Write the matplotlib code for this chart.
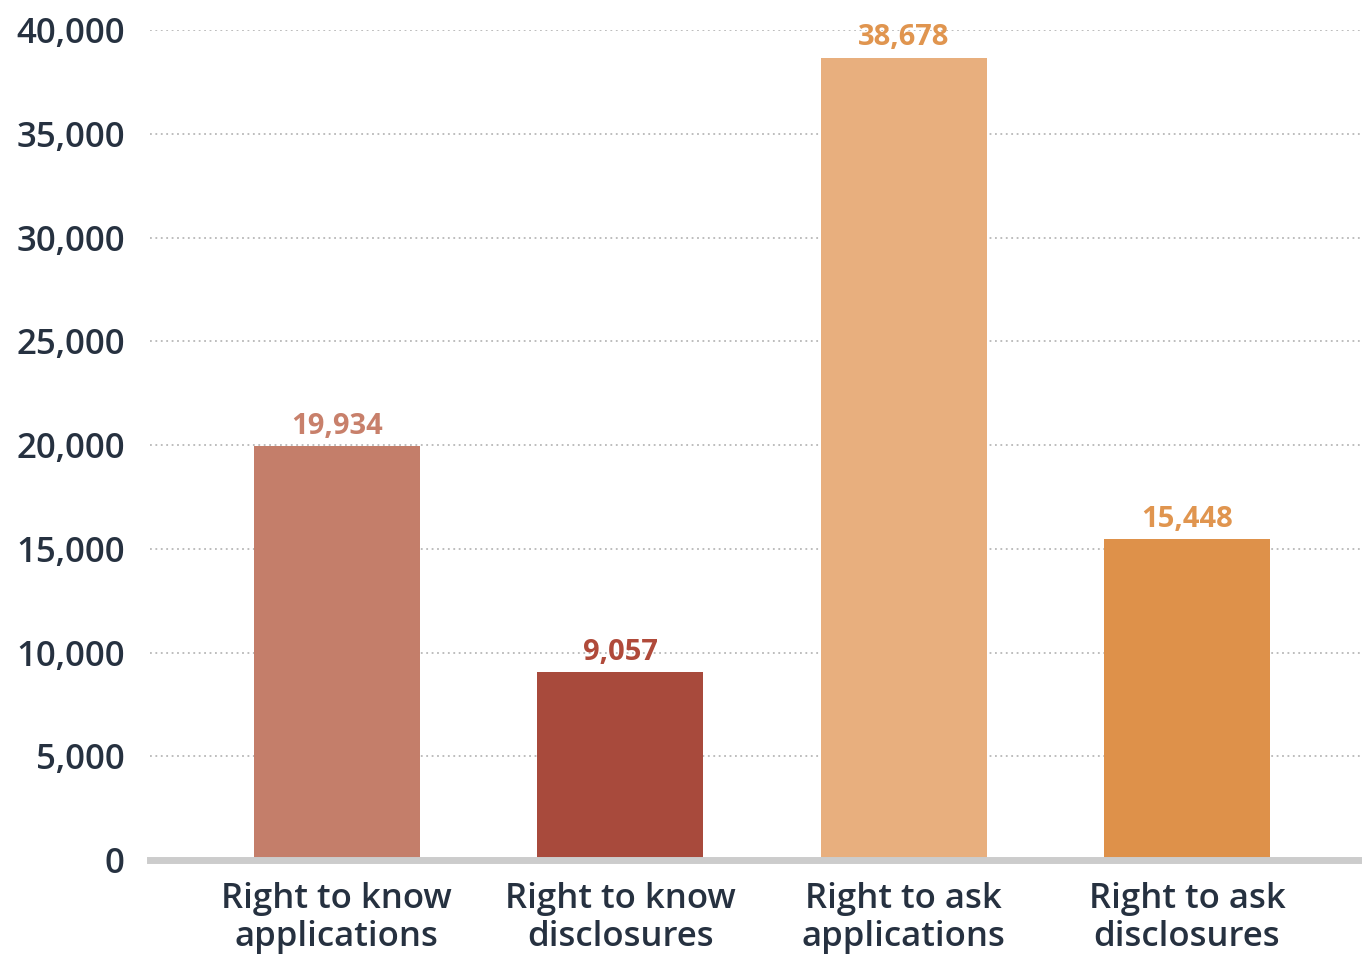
import matplotlib.pyplot as plt
from matplotlib.ticker import FuncFormatter

categories = ["Right to know\napplications", "Right to know\ndisclosures",
              "Right to ask\napplications", "Right to ask\ndisclosures"]
values = [19934, 9057, 38678, 15448]
bar_colors = ["#C47E6A", "#A84A3C", "#E8AF7E", "#DE914A"]
label_colors = ["#C8806B", "#B04A3A", "#E0954F", "#E0954F"]
y_ticks = [0, 5000, 10000, 15000, 20000, 25000, 30000, 35000, 40000]

plt.rcParams["font.family"] = ["Open Sans", "DejaVu Sans"]

fig = plt.figure(figsize=(13.62, 9.55), dpi=100)
ax = fig.add_axes([0.110, 0.0995, 0.890, 0.869])

x = list(range(len(categories)))
ax.bar(x, values, width=0.586, color=bar_colors, zorder=3)

for xi, v, c in zip(x, values, label_colors):
    ax.text(xi, v + 250, f"{v:,}", ha="center", va="bottom",
            fontsize=21, fontweight="bold", color=c, zorder=4)

ax.set_xlim(-0.66, 3.618)
ax.set_ylim(0, 40000)
ax.set_yticks(y_ticks)
ax.yaxis.set_major_formatter(FuncFormatter(lambda v, p: f"{int(v):,}"))
ax.set_xticks(x)
ax.set_xticklabels(categories, linespacing=1.15)
for lbl in ax.get_xticklabels() + ax.get_yticklabels():
    lbl.set_fontweight("semibold")

ax.grid(axis="y", linestyle=(0, (1, 2)), color="#b8b8b8", linewidth=1.3, zorder=0)
for s in ["top", "right", "left"]:
    ax.spines[s].set_visible(False)
ax.spines["bottom"].set_color("#cccccc")
ax.spines["bottom"].set_linewidth(5)
ax.spines["bottom"].set_zorder(5)

ax.tick_params(axis="y", length=0, pad=18, labelsize=25, labelcolor="#263140")
ax.tick_params(axis="x", length=0, pad=16, labelsize=25, labelcolor="#263140")

fig.savefig("out.png", dpi=100)
